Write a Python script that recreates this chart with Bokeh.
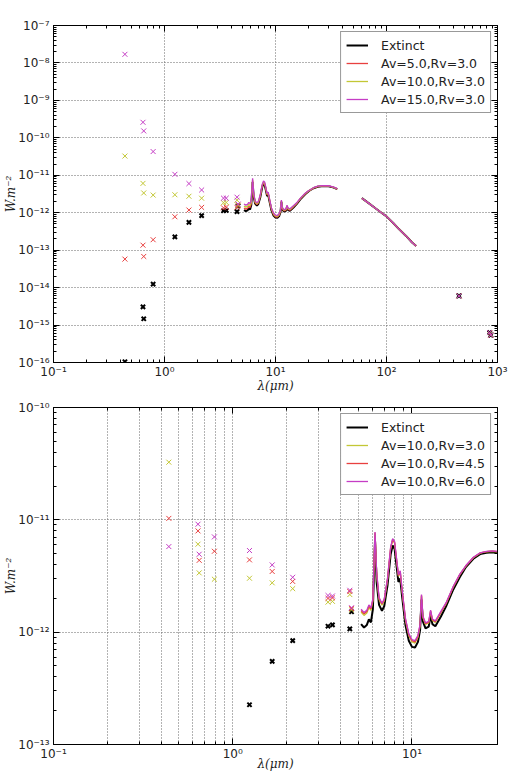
from bokeh.plotting import figure
from bokeh.layouts import column
from bokeh.models import (Legend, LegendItem, LogAxis, FixedTicker,
                          CustomJSTickFormatter, Range1d)
from bokeh.embed import file_html
from bokeh.resources import INLINE

# ---------------------------------------------------------------- data
# photometric bands (um) and fluxes (W m^-2)
PHOT_WL = [0.44, 0.64, 0.65, 0.79, 1.24, 1.66, 2.16, 3.4, 3.6, 4.5, 4.6]
PHOT_EXT = [1.05e-16, 3.07e-15, 1.47e-15, 1.24e-14, 2.26e-13, 5.5e-13, 8.4e-13,
            1.13e-12, 1.16e-12, 1.07e-12, 1.52e-12]
PHOT_AV5 = [5.77e-14, 1.36e-13, 6.8e-14, 1.9e-13, 7.8e-13, 1.18e-12, 1.39e-12,
            1.35e-12, 1.4e-12, 1.39e-12, 1.56e-12]
PHOT_AV10_RV30 = [3.26e-11, 6.07e-12, 3.37e-12, 2.96e-12, 3.02e-12, 2.75e-12, 2.44e-12,
                  1.85e-12, 1.88e-12, 2.16e-12, 1.58e-12]
PHOT_AV15 = [1.7e-8, 2.6e-10, 1.53e-10, 4.3e-11, 1.06e-11, 6.0e-12, 4.05e-12,
             2.45e-12, 2.45e-12, 2.6e-12, 1.7e-12]
PHOT_AV10_RV45 = [1.03e-11, 7.97e-12, 4.36e-12, 5.25e-12, 4.4e-12, 3.47e-12, 2.83e-12,
                  2.0e-12, 2.02e-12, 2.3e-12, 1.62e-12]
PHOT_AV10_RV60 = [5.78e-12, 9.14e-12, 4.94e-12, 7.05e-12, 5.33e-12, 3.97e-12, 3.08e-12,
                  2.12e-12, 2.1e-12, 2.36e-12, 1.65e-12]

# sub-mm photometry (no extinction correction)
SUBMM_WL = [450, 850, 870]
SUBMM_FLUX = [6.0e-15, 6.3e-16, 5.4e-16]

# mid-IR spectrum
SPEC_WL = [5.2, 5.4, 5.6, 5.75, 5.9, 6.05, 6.22, 6.35, 6.55, 6.8, 7.0, 7.3, 7.6, 7.8,
           8.0, 8.2, 8.4, 8.6, 8.8, 9.2, 9.6, 10.0, 10.4, 10.8, 11.1, 11.3, 11.5, 11.9,
           12.4, 12.7, 13.0, 13.5, 14.5, 15.5, 17.0, 18.5, 20.0, 22.0, 24.0, 26.0,
           28.0, 30.0, 33.0, 36.0]
SPEC_EXT = [1.18e-12, 1.10e-12, 1.16e-12, 1.30e-12, 1.22e-12, 1.6e-12, 6.6e-12, 2.8e-12,
            1.75e-12, 1.55e-12, 1.7e-12, 2.6e-12, 4.9e-12, 5.9e-12, 5.5e-12, 3.9e-12,
            2.8e-12, 3.0e-12, 2.1e-12, 1.15e-12, 8.4e-13, 7.4e-13, 7.3e-13, 8.2e-13,
            1.05e-12, 1.95e-12, 1.25e-12, 1.08e-12, 1.12e-12, 1.42e-12, 1.18e-12,
            1.13e-12, 1.38e-12, 1.7e-12, 2.4e-12, 3.1e-12, 3.8e-12, 4.5e-12, 4.95e-12,
            5.1e-12, 5.15e-12, 5.1e-12, 4.75e-12, 4.25e-12]
SPEC_AV5 = [1.34e-12, 1.25e-12, 1.31e-12, 1.47e-12, 1.38e-12, 1.74e-12, 7.1e-12, 3.05e-12,
            1.85e-12, 1.64e-12, 1.8e-12, 2.75e-12, 5.2e-12, 6.25e-12, 5.85e-12, 4.15e-12,
            2.97e-12, 3.2e-12, 2.22e-12, 1.21e-12, 8.8e-13, 7.8e-13, 7.65e-13, 8.6e-13,
            1.09e-12, 2.03e-12, 1.3e-12, 1.12e-12, 1.16e-12, 1.47e-12, 1.22e-12,
            1.17e-12, 1.43e-12, 1.74e-12, 2.46e-12, 3.17e-12, 3.84e-12, 4.55e-12, 5.0e-12,
            5.15e-12, 5.2e-12, 5.15e-12, 4.8e-12, 4.29e-12]
SPEC_AV10_RV30 = [1.51e-12, 1.41e-12, 1.48e-12, 1.66e-12, 1.56e-12, 1.89e-12, 7.6e-12,
                  3.3e-12, 1.96e-12, 1.74e-12, 1.9e-12, 2.9e-12, 5.5e-12, 6.6e-12, 6.2e-12,
                  4.4e-12, 3.15e-12, 3.4e-12, 2.35e-12, 1.27e-12, 9.3e-13, 8.2e-13, 8.0e-13,
                  9.0e-13, 1.14e-12, 2.1e-12, 1.35e-12, 1.17e-12, 1.21e-12, 1.53e-12,
                  1.27e-12, 1.22e-12, 1.49e-12, 1.79e-12, 2.52e-12, 3.25e-12, 3.88e-12,
                  4.6e-12, 5.05e-12, 5.2e-12, 5.25e-12, 5.2e-12, 4.85e-12, 4.33e-12]
SPEC_AV15 = [1.71e-12, 1.6e-12, 1.68e-12, 1.88e-12, 1.77e-12, 2.1e-12, 8.3e-12, 3.5e-12,
             2.07e-12, 1.83e-12, 2.0e-12, 3.07e-12, 5.8e-12, 7.0e-12, 6.5e-12, 4.6e-12,
             3.3e-12, 3.55e-12, 2.48e-12, 1.34e-12, 9.8e-13, 8.6e-13, 8.4e-13, 9.5e-13,
             1.18e-12, 2.18e-12, 1.4e-12, 1.21e-12, 1.25e-12, 1.59e-12, 1.32e-12,
             1.27e-12, 1.54e-12, 1.84e-12, 2.57e-12, 3.3e-12, 3.93e-12, 4.65e-12, 5.1e-12,
             5.25e-12, 5.3e-12, 5.25e-12, 4.9e-12, 4.38e-12]
SPEC_AV10_RV45 = [1.56e-12, 1.46e-12, 1.53e-12, 1.71e-12, 1.61e-12, 1.94e-12, 7.7e-12,
                  3.38e-12, 2.0e-12, 1.78e-12, 1.94e-12, 2.96e-12, 5.6e-12, 6.7e-12, 6.3e-12,
                  4.48e-12, 3.2e-12, 3.46e-12, 2.39e-12, 1.3e-12, 9.5e-13, 8.4e-13, 8.2e-13,
                  9.2e-13, 1.16e-12, 2.13e-12, 1.37e-12, 1.19e-12, 1.23e-12, 1.55e-12,
                  1.29e-12, 1.24e-12, 1.51e-12, 1.81e-12, 2.54e-12, 3.27e-12, 3.9e-12,
                  4.62e-12, 5.07e-12, 5.22e-12, 5.27e-12, 5.22e-12, 4.87e-12, 4.35e-12]
SPEC_AV10_RV60 = [1.6e-12, 1.5e-12, 1.57e-12, 1.75e-12, 1.65e-12, 1.98e-12, 7.8e-12,
                  3.44e-12, 2.04e-12, 1.81e-12, 1.97e-12, 3.0e-12, 5.7e-12, 6.8e-12, 6.4e-12,
                  4.55e-12, 3.25e-12, 3.52e-12, 2.43e-12, 1.32e-12, 9.7e-13, 8.6e-13, 8.4e-13,
                  9.4e-13, 1.18e-12, 2.16e-12, 1.39e-12, 1.21e-12, 1.25e-12, 1.57e-12,
                  1.31e-12, 1.26e-12, 1.53e-12, 1.83e-12, 2.56e-12, 3.29e-12, 3.92e-12,
                  4.64e-12, 5.09e-12, 5.24e-12, 5.29e-12, 5.24e-12, 4.89e-12, 4.37e-12]

# far-IR spectrum (identical for every correction)
FIR_WL = [60, 70, 80, 90, 100, 115, 130, 150, 170, 185]
FIR_FLUX = [2.45e-12, 1.75e-12, 1.3e-12, 1.0e-12, 8.0e-13, 5.3e-13, 3.6e-13, 2.4e-13,
            1.6e-13, 1.3e-13]

BLACK = "#000000"
RED = "#e8403f"
YELLOW = "#c3c735"
MAGENTA = "#c53dc5"


def log_ticker(lo, hi):
    majors = [10.0 ** e for e in range(lo, hi + 1)]
    minors = [m * 10.0 ** e for e in range(lo, hi) for m in range(2, 10)]
    return FixedTicker(ticks=majors, minor_ticks=minors)


POW_JS = """
const sup = {'-': '\u207b', '0': '\u2070', '1': '\u00b9', '2': '\u00b2', '3': '\u00b3',
             '4': '\u2074', '5': '\u2075', '6': '\u2076', '7': '\u2077', '8': '\u2078',
             '9': '\u2079'};
const e = Math.round(Math.log10(tick));
return '10' + String(e).split('').map(c => sup[c]).join('');
"""


def style_ticks(ax, ticker):
    ax.ticker = ticker
    ax.major_tick_in = 6
    ax.major_tick_out = 0
    ax.minor_tick_in = 3
    ax.minor_tick_out = 0
    ax.axis_line_color = "black"
    ax.major_tick_line_color = "black"
    ax.minor_tick_line_color = "black"


def style_axis(ax, ticker, label, label_standoff, tick_standoff):
    style_ticks(ax, ticker)
    ax.formatter = CustomJSTickFormatter(code=POW_JS)
    ax.major_label_text_font = "DejaVu Sans"
    ax.major_label_text_font_size = "12px"
    ax.major_label_text_color = "#222222"
    ax.major_label_standoff = tick_standoff
    ax.axis_label = label
    ax.axis_label_text_font = "DejaVu Serif"
    ax.axis_label_text_font_style = "italic"
    ax.axis_label_text_font_size = "12px"
    ax.axis_label_text_color = "#222222"
    ax.axis_label_standoff = label_standoff


def mirror_axis(ticker):
    # tick marks only, for the top and right edges of the frame
    ax = LogAxis()
    style_ticks(ax, ticker)
    ax.formatter = CustomJSTickFormatter(code="return '';")
    ax.major_label_text_font_size = "1px"
    ax.major_label_standoff = 0
    return ax


def make_panel(xlim, ylim, xdec, ydec, height, top, bottom, minor_xgrid, xlab_standoff):
    p = figure(width=510, height=height, x_axis_type="log", y_axis_type="log",
               x_range=Range1d(*xlim), y_range=Range1d(*ylim),
               output_backend="svg", toolbar_location=None,
               min_border_left=53, min_border_right=13,
               min_border_top=top, min_border_bottom=bottom,
               background_fill_color="white", border_fill_color="white")
    p.outline_line_color = "black"
    xt = log_ticker(*xdec)
    yt = log_ticker(*ydec)
    style_axis(p.xaxis[0], xt, "\u03bb(\u03bcm)", xlab_standoff, 2)
    style_axis(p.yaxis[0], yt, "W.m\u207b\u00b2", -3, 4)
    p.add_layout(mirror_axis(yt), "right")
    p.add_layout(mirror_axis(xt), "above")
    for g in (p.xgrid[0], p.ygrid[0]):
        g.grid_line_color = "#666666"
        g.grid_line_dash = "1 2"
        g.grid_line_width = 1
    p.xgrid.ticker = xt
    p.ygrid.ticker = yt
    if minor_xgrid:
        p.xgrid.minor_grid_line_color = "#666666"
        p.xgrid.minor_grid_line_dash = "1 2"
    return p


def add_series(p, spec, phot, submm, color, width):
    r = p.line(SPEC_WL, spec, line_color=color, line_width=width)
    p.line(FIR_WL, FIR_FLUX, line_color=color, line_width=width)
    if color == BLACK:
        p.scatter(PHOT_WL, phot, marker="x", size=6, line_color=color, line_width=2)
        if submm:
            p.scatter(SUBMM_WL, SUBMM_FLUX, marker="x", size=6, line_color=color, line_width=2)
    else:
        p.scatter(PHOT_WL, phot, marker="x", size=7, line_color=color, line_width=1)
        if submm:
            p.scatter(SUBMM_WL, SUBMM_FLUX, marker="x", size=7, line_color=color, line_width=1)
    return r


def add_legend(p, entries):
    leg = Legend(items=[LegendItem(label=lab, renderers=[r]) for lab, r in entries],
                 location="top_right", border_line_color="#333333", border_line_width=1,
                 label_text_font="DejaVu Sans", label_text_font_size="12.5px",
                 label_text_color="#222222", glyph_width=22, glyph_height=16,
                 label_height=16, spacing=2, padding=5, margin=6, label_standoff=13,
                 background_fill_color="white", background_fill_alpha=1.0)
    p.add_layout(leg)


# ---- upper panel: increasing Av at Rv = 3.0
top = make_panel((0.1, 1000), (1e-16, 1e-7), (-1, 3), (-16, -7),
                 height=398, top=25, bottom=36, minor_xgrid=False, xlab_standoff=-3)
r0 = add_series(top, SPEC_EXT, PHOT_EXT, True, BLACK, 2)
r1 = add_series(top, SPEC_AV5, PHOT_AV5, True, RED, 1.3)
r2 = add_series(top, SPEC_AV10_RV30, PHOT_AV10_RV30, True, YELLOW, 1.3)
r3 = add_series(top, SPEC_AV15, PHOT_AV15, True, MAGENTA, 1.3)
add_legend(top, [("Extinct", r0), ("Av=5.0,Rv=3.0", r1),
                 ("Av=10.0,Rv=3.0", r2), ("Av=15.0,Rv=3.0", r3)])

# ---- lower panel: Av = 10 with different Rv
bot = make_panel((0.1, 30), (1e-13, 1e-10), (-1, 1), (-13, -10),
                 height=376, top=9, bottom=30, minor_xgrid=True, xlab_standoff=-7)
s0 = add_series(bot, SPEC_EXT, PHOT_EXT, False, BLACK, 2)
s1 = add_series(bot, SPEC_AV10_RV30, PHOT_AV10_RV30, False, YELLOW, 1.3)
s2 = add_series(bot, SPEC_AV10_RV45, PHOT_AV10_RV45, False, RED, 1.3)
s3 = add_series(bot, SPEC_AV10_RV60, PHOT_AV10_RV60, False, MAGENTA, 1.3)
add_legend(bot, [("Extinct", s0), ("Av=10.0,Rv=3.0", s1),
                 ("Av=10.0,Rv=4.5", s2), ("Av=10.0,Rv=6.0", s3)])

layout = column(top, bot, spacing=0)
open("out.html", "w").write(file_html(layout, INLINE))
